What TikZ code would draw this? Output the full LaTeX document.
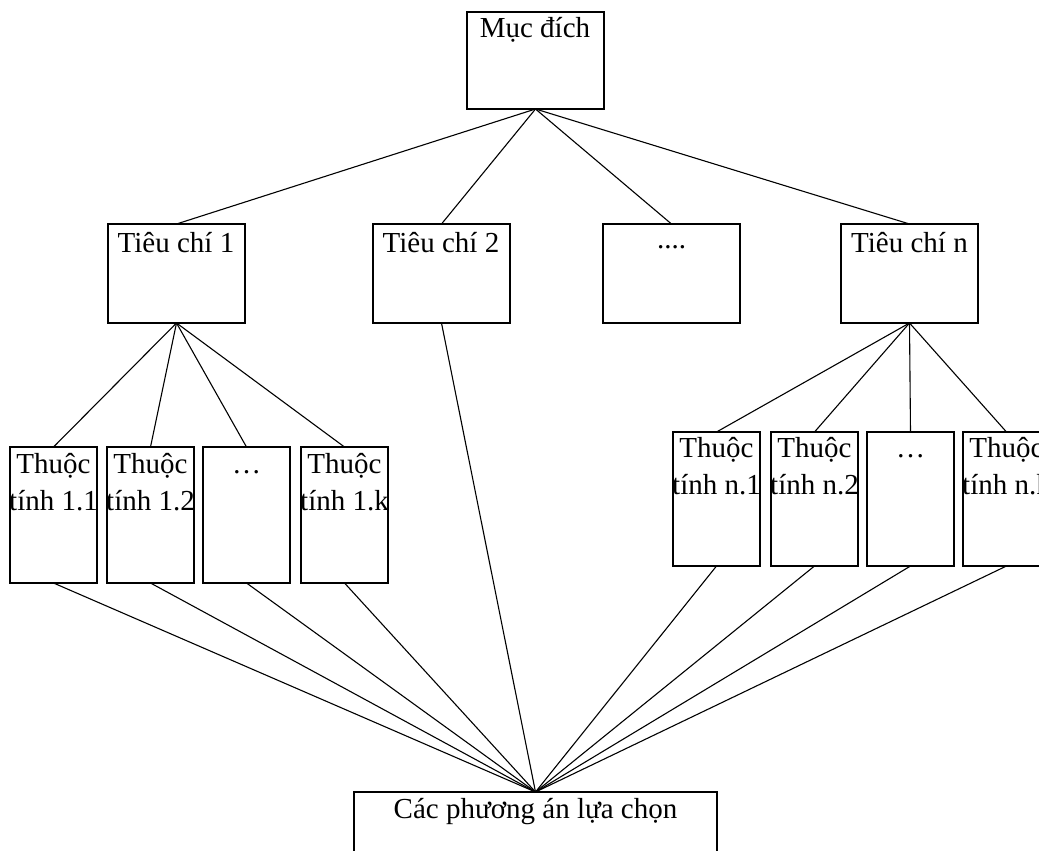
\documentclass[tikz,border=0pt]{standalone}
\usepackage{fontspec}
\setmainfont{Liberation Serif}
\begin{document}
\begin{tikzpicture}[x=1pt,y=-1pt,
  box/.style={draw,line width=1.3pt,anchor=north west,inner sep=0pt,outer sep=0pt},
  txt/.style={font=\fontsize{29}{37}\selectfont,align=center,anchor=base,inner sep=0pt},
  conn/.style={line width=1.1pt}]
\useasboundingbox (0,0) rectangle (1039,851);
\clip (0,0) rectangle (1039,851);
% goal
\node[box,minimum width=137pt,minimum height=97pt] (goal) at (467,12) {};
\node[txt] (goalt) at (535,38) {Mục đích};
% criteria
\node[box,minimum width=137pt,minimum height=99pt] (c1) at (108,224) {};
\node[box,minimum width=137pt,minimum height=99pt] (c2) at (373,224) {};
\node[box,minimum width=137pt,minimum height=99pt] (c3) at (603,224) {};
\node[box,minimum width=137pt,minimum height=99pt] (cn) at (841,224) {};
\node[txt] (c1t) at (176,252) {Tiêu chí 1};
\node[txt] (c2t) at (441,252) {Tiêu chí 2};
\node[txt] (c3t) at (671.5,248) {....};
\node[txt] (cnt) at (909.5,252) {Tiêu chí n};
% attributes of criterion 1
\node[box,minimum width=87pt,minimum height=136pt] (a11) at (10,447) {};
\node[box,minimum width=87pt,minimum height=136pt] (a12) at (107,447) {};
\node[box,minimum width=87pt,minimum height=136pt] (a13) at (203,447) {};
\node[box,minimum width=87pt,minimum height=136pt] (a1k) at (301,447) {};
\node[txt] (a11t) at (53.5,510) {Thuộc\\tính 1.1};
\node[txt] (a12t) at (150.5,510) {Thuộc\\tính 1.2};
\node[txt] (a13t) at (246.5,473) {…};
\node[txt] (a1kt) at (344.5,510) {Thuộc\\tính 1.k};
% attributes of criterion n
\node[box,minimum width=87pt,minimum height=134pt] (an1) at (673,432) {};
\node[box,minimum width=87pt,minimum height=134pt] (an2) at (771,432) {};
\node[box,minimum width=87pt,minimum height=134pt] (an3) at (867,432) {};
\node[box,minimum width=87pt,minimum height=134pt] (ank) at (963,432) {};
\node[txt] (an1t) at (716.5,494) {Thuộc\\tính n.1};
\node[txt] (an2t) at (814.5,494) {Thuộc\\tính n.2};
\node[txt] (an3t) at (910.5,457) {…};
\node[txt] (ankt) at (1006.5,494) {Thuộc\\tính n.k};
% alternatives
\node[box,minimum width=363pt,minimum height=80pt] (alt) at (354,792) {};
\node[txt] (altt) at (535.5,818) {Các phương án lựa chọn};
% connectors
\foreach \c in {c1,c2,c3,cn} \draw[conn] (goal.south) -- (\c.north);
\foreach \a in {a11,a12,a13,a1k} \draw[conn] (c1.south) -- (\a.north);
\foreach \a in {an1,an2,an3,ank} \draw[conn] (cn.south) -- (\a.north);
\draw[conn] (c2.south) -- (alt.north);
\foreach \a in {a11,a12,a13,a1k,an1,an2,an3,ank} \draw[conn] (\a.south) -- (alt.north);
\end{tikzpicture}
\end{document}
